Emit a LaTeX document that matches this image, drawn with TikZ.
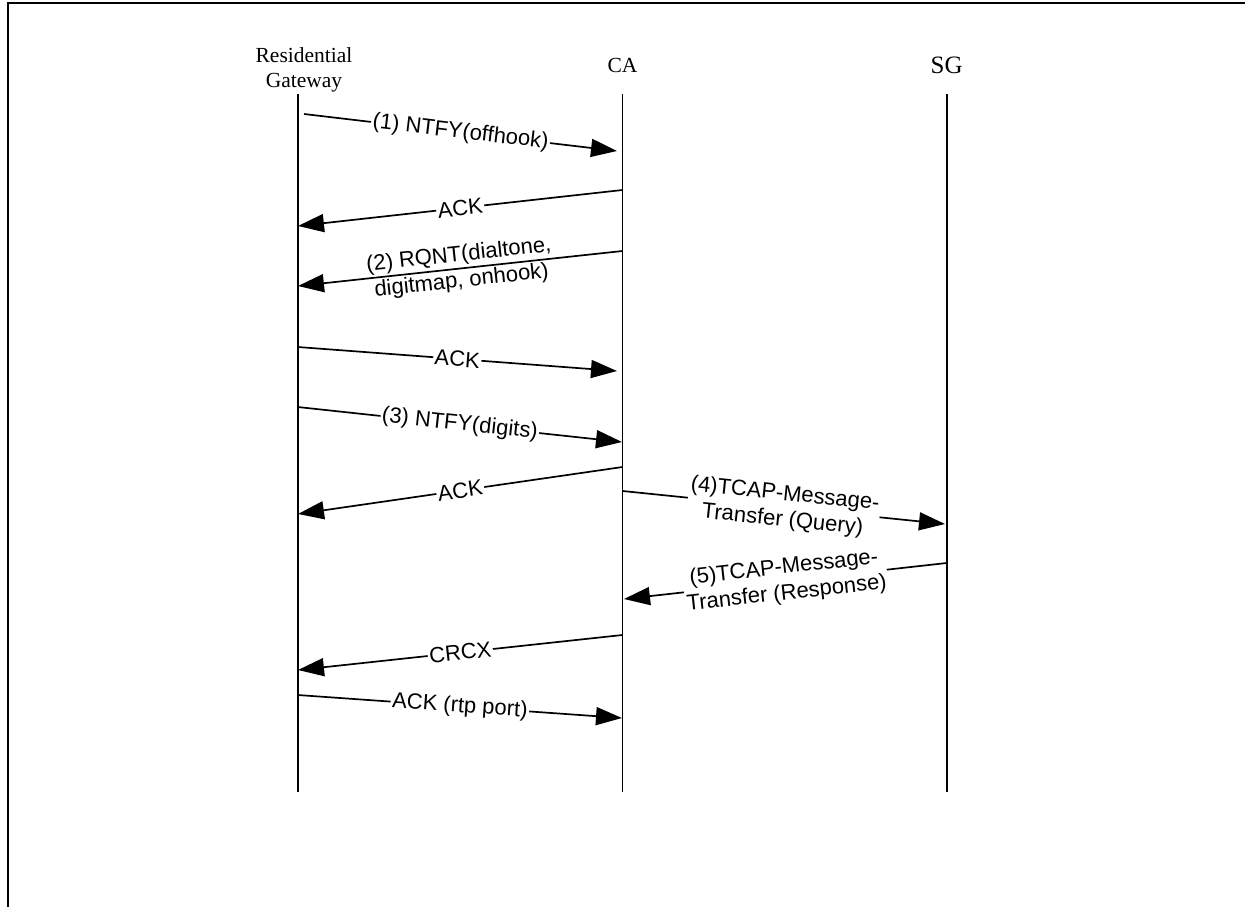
\documentclass[tikz,border=0pt]{standalone}
\usepackage{fontspec}
\setmainfont{Liberation Serif}
\newfontfamily\arialf{Liberation Sans}
\usetikzlibrary{arrows.meta}
\tikzset{
  life/.style={line width=1.8pt},
  msg/.style={line width=1.7pt, -{Triangle[length=26pt,width=18pt]}},
  lbl/.style={midway, sloped, fill=white, inner sep=1.5pt, align=center,
    font=\arialf\fontsize{22}{26}\selectfont},
  lblclear/.style={midway, sloped, inner sep=1.5pt, align=center,
    font=\arialf\fontsize{22}{26}\selectfont},
  head/.style={inner sep=0pt, align=center, font=\fontsize{21.5}{25}\selectfont},
}
\begin{document}
\begin{tikzpicture}[x=1pt,y=-1pt]
\useasboundingbox (0,0) rectangle (1245,907);
% frame (top and left only)
\draw[line width=2.5pt] (8,907) -- (8,3) -- (1245,3);
% heads
\node[head] (rg) at (304,70) {Residential\\Gateway};
\node[head, anchor=base] (ca) at (622.5,73) {CA};
\node[head, anchor=base, font=\fontsize{25}{28}\selectfont] (sg) at (946.7,74) {SG};
% lifelines
\coordinate (rgT) at (297.7,94); \coordinate (rgB) at (297.7,792);
\coordinate (caT) at (622.5,94); \coordinate (caB) at (622.5,792);
\coordinate (sgT) at (946.7,94); \coordinate (sgB) at (946.7,792);
\draw[life] (rgT) -- (rgB);
\draw[life] (caT) -- (caB);
\draw[life] (sgT) -- (sgB);
% message end points
\coordinate (m1s) at (304,114);   \coordinate (m1e) at (617,151);
\coordinate (m2s) at (622.5,190); \coordinate (m2e) at (298,226);
\coordinate (m3s) at (622.5,251); \coordinate (m3e) at (298,286);
\coordinate (m4s) at (297.7,347); \coordinate (m4e) at (617,371);
\coordinate (m5s) at (297.7,407); \coordinate (m5e) at (622,442);
\coordinate (m6s) at (622.5,467); \coordinate (m6e) at (298,514);
\coordinate (m7s) at (622.5,491); \coordinate (m7e) at (945,524);
\coordinate (m8s) at (946.7,563); \coordinate (m8e) at (624,599);
\coordinate (m9s) at (622.5,635); \coordinate (m9e) at (298,670);
\coordinate (m10s) at (297.7,695); \coordinate (m10e) at (622,718);
% messages
\draw[msg] (m1s) -- node[lbl] (l1) {(1) NTFY(offhook)} (m1e);
\draw[msg] (m2s) -- node[lbl] (l2) {ACK} (m2e);
\draw[msg] (m3s) -- node[lblclear] (l3) {(2) RQNT(dialtone,\\digitmap, onhook)} (m3e);
\draw[msg] (m4s) -- node[lbl] (l4) {ACK} (m4e);
\draw[msg] (m5s) -- node[lbl] (l5) {(3) NTFY(digits)} (m5e);
\draw[msg] (m6s) -- node[lbl] (l6) {ACK} (m6e);
\draw[msg] (m7s) -- node[lbl] (l7) {(4)TCAP-Message-\\Transfer (Query)} (m7e);
\draw[msg] (m8s) -- node[lbl] (l8) {(5)TCAP-Message-\\Transfer (Response)} (m8e);
\draw[msg] (m9s) -- node[lbl] (l9) {CRCX} (m9e);
\draw[msg] (m10s) -- node[lbl] (l10) {ACK (rtp port)} (m10e);
\end{tikzpicture}
\end{document}
